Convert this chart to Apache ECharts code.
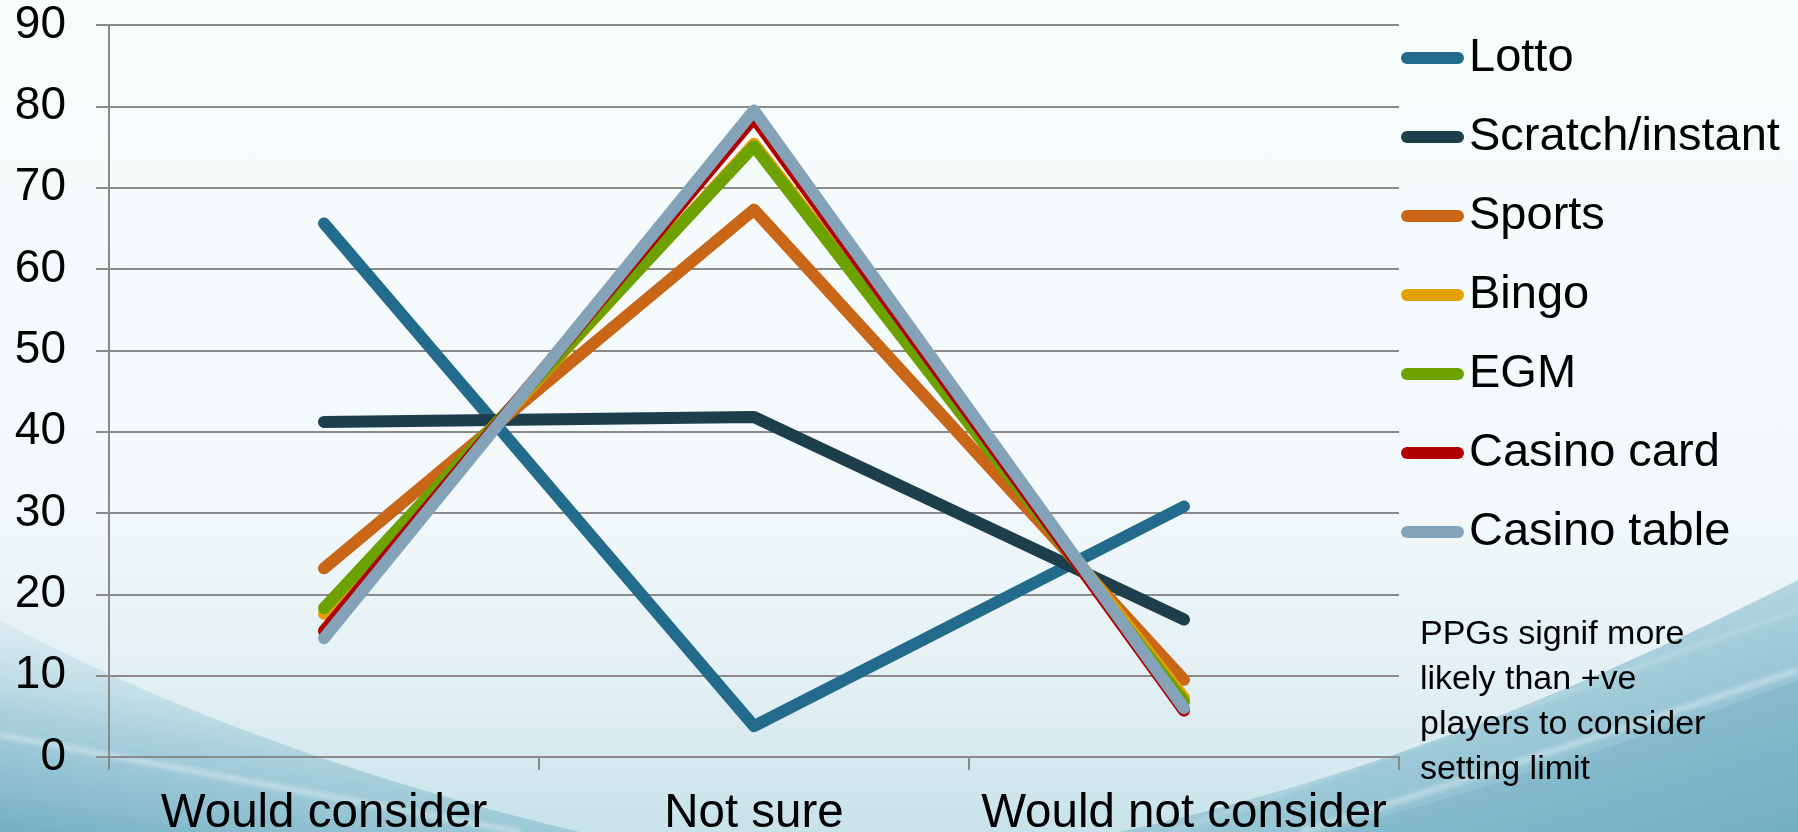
<!DOCTYPE html>
<html>
<head>
<meta charset="utf-8">
<script src="https://cdn.jsdelivr.net/npm/echarts@6/dist/echarts.min.js"></script>
<style>
  html, body { margin: 0; padding: 0; }
  body {
    width: 1798px; height: 832px; overflow: hidden;
    background-repeat: no-repeat;
    background-size: 1798px 832px;
  }
  #chart { width: 1798px; height: 832px; }
</style>
</head>
<body>
<div id="chart"></div>
<script>
// Survey answers: share of each player group (%) by response
const categories = ['Would consider', 'Not sure', 'Would not consider'];
const seriesNames = ['Lotto', 'Scratch/instant', 'Sports', 'Bingo', 'EGM', 'Casino card', 'Casino table'];
const lotto       = [65.6, 3.8, 30.8];
const scratch     = [41.2, 41.8, 16.9];
const sports      = [23.2, 67.3, 9.5];
const bingo       = [17.6, 75.4, 7.3];
const egm         = [18.3, 75.1, 6.8];
const casinoCard  = [15.5, 78.6, 5.7];
const casinoTable = [14.6, 79.5, 6.0];
const yMin = 0, yMax = 90, yStep = 10;
const note = ['PPGs signif more', 'likely than +ve', 'players to consider', 'setting limit'];

const seriesData = [lotto, scratch, sports, bingo, egm, casinoCard, casinoTable];
const colors = ['#236b8c', '#1d3e4b', '#c96617', '#e4a000', '#6ca100', '#b00000', '#84a3b9'];

// Slide-style backdrop: pale top fading into teal waves at the bottom
const bg = `
<svg xmlns='http://www.w3.org/2000/svg' width='1798' height='832' viewBox='0 0 1798 832'>
 <defs>
  <linearGradient id='b' x1='0' y1='0' x2='0' y2='1'>
   <stop offset='0' stop-color='#f8fcfd'/>
   <stop offset='0.6' stop-color='#f3f9fb'/>
   <stop offset='0.82' stop-color='#e3f0f4'/>
   <stop offset='1' stop-color='#c8e2ea'/>
  </linearGradient>
  <linearGradient id='l' x1='0' y1='1' x2='0.5' y2='0'>
   <stop offset='0' stop-color='#74afc4' stop-opacity='1'/>
   <stop offset='0.45' stop-color='#8fc1d2' stop-opacity='0.65'/>
   <stop offset='1' stop-color='#c5e0e9' stop-opacity='0'/>
  </linearGradient>
  <linearGradient id='r' x1='1' y1='1' x2='0.1' y2='0'>
   <stop offset='0' stop-color='#71adc2' stop-opacity='1'/>
   <stop offset='0.5' stop-color='#8cc0d1' stop-opacity='0.7'/>
   <stop offset='1' stop-color='#c8e2ea' stop-opacity='0'/>
  </linearGradient>
  <filter id='s'><feGaussianBlur stdDeviation='2.5'/></filter>
 </defs>
 <rect width='1798' height='832' fill='url(#b)'/>
 <path d='M0,620 C130,690 320,770 580,832 L0,832 Z' fill='url(#l)'/>
 <path d='M1798,580 C1620,670 1400,770 1120,832 L1798,832 Z' fill='url(#r)'/>
 <path d='M1798,680 C1640,740 1480,790 1330,832 L1798,832 Z' fill='#76b1c5' opacity='0.45'/>
 <path d='M0,735 C160,765 330,795 520,832' stroke='#ffffff' stroke-width='4' fill='none' opacity='0.5' filter='url(#s)'/>
 <path d='M1798,670 C1620,730 1450,785 1300,832' stroke='#ffffff' stroke-width='5' fill='none' opacity='0.45' filter='url(#s)'/>
 <path d='M1798,610 C1600,680 1380,760 1170,832' stroke='#ffffff' stroke-width='3' fill='none' opacity='0.3' filter='url(#s)'/>
</svg>`;
document.body.style.backgroundImage = 'url("data:image/svg+xml;utf8,' + encodeURIComponent(bg) + '")';

const font = "'Liberation Sans', Arial, sans-serif";
const gray = '#8a8a8a';

const chart = echarts.init(document.getElementById('chart'), null, { renderer: 'canvas' });
chart.setOption({
  backgroundColor: 'transparent',
  animation: false,
  color: colors,
  textStyle: { fontFamily: font },
  grid: { left: 109, right: 399, top: 25, bottom: 75, containLabel: false, outerBoundsMode: 'none' },
  xAxis: {
    type: 'category',
    data: categories,
    boundaryGap: true,
    axisLine: { lineStyle: { color: gray, width: 2 } },
    axisTick: { show: true, length: 13, lineStyle: { color: gray, width: 2 } },
    axisLabel: { color: '#000', fontSize: 47.5, fontFamily: font, margin: 33, interval: 0 },
    splitLine: { show: false }
  },
  yAxis: {
    type: 'value',
    min: yMin, max: yMax, interval: yStep,
    axisLine: { show: true, lineStyle: { color: gray, width: 2 } },
    axisTick: { show: true, length: 13, lineStyle: { color: gray, width: 2 } },
    axisLabel: { color: '#000', fontSize: 46, fontFamily: font, margin: 43 },
    splitLine: { show: true, lineStyle: { color: gray, width: 2 } }
  },
  legend: {
    orient: 'vertical',
    left: 1396,
    top: 27,
    itemWidth: 63,
    itemHeight: 12,
    itemGap: 27,
    icon: 'path://M6,0 L57,0 A6,6 0 0 1 57,12 L6,12 A6,6 0 0 1 6,0 Z',
    textStyle: { color: '#000', fontSize: 47, fontFamily: font, lineHeight: 52 },
    data: seriesNames
  },
  graphic: [{
    type: 'text',
    left: 1420,
    top: 612,
    style: {
      text: note.join('\n'),
      fill: '#000',
      font: '34px ' + font,
      lineHeight: 45
    }
  }],
  series: seriesNames.map((name, i) => ({
    name: name,
    type: 'line',
    data: seriesData[i],
    symbol: 'none',
    lineStyle: { width: 12, color: colors[i], cap: 'round', join: 'round' },
    itemStyle: { color: colors[i] }
  }))
});
</script>
</body>
</html>
